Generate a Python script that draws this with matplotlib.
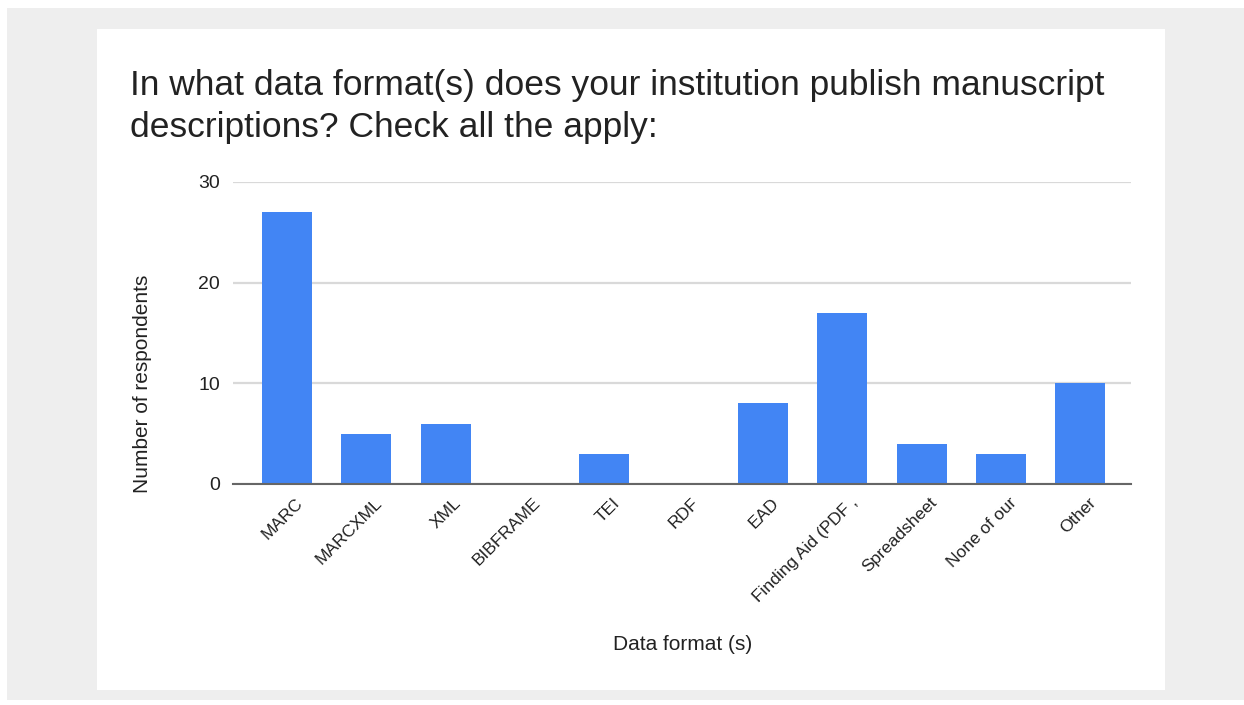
import matplotlib
matplotlib.use("Agg")
import matplotlib.pyplot as plt
from matplotlib.patches import Rectangle
from matplotlib.transforms import ScaledTranslation

categories = ["MARC", "MARCXML", "XML", "BIBFRAME", "TEI", "RDF", "EAD",
              "Finding Aid (PDF ,", "Spreadsheet", "None of our", "Other"]
values = [27, 5, 6, 0, 3, 0, 8, 17, 4, 3, 10]
yticks = [0, 10, 20, 30]

W, H = 1244, 705
plt.rcParams['font.family'] = ['Liberation Sans', 'DejaVu Sans']
fig = plt.figure(figsize=(W / 100, H / 100), dpi=100)
fig.patch.set_facecolor('white')

def fx(x):
    return x / W

def fy(y):
    return 1 - y / H

fig.patches.append(Rectangle((fx(7), fy(700)), fx(1244 - 7), (700 - 8) / H,
                             transform=fig.transFigure, facecolor='#eeeeee',
                             edgecolor='none', zorder=-2))
fig.patches.append(Rectangle((fx(97), fy(690)), fx(1165 - 97), (690 - 29) / H,
                             transform=fig.transFigure, facecolor='white',
                             edgecolor='none', zorder=-1))

ax = fig.add_axes([fx(233), fy(484), fx(1131 - 233), (484 - 182) / H])
ax.set_facecolor('none')
x = list(range(len(categories)))
ax.bar(x, values, width=0.63, color='#4285f4', zorder=3)
ax.set_xlim(-0.68, 10.64)
ax.set_ylim(0, 30)
ax.set_yticks(yticks)
ax.yaxis.grid(True, color='#d9d9d9', linewidth=1.6, zorder=0)
ax.set_axisbelow(True)
for s in ['top', 'right', 'left']:
    ax.spines[s].set_visible(False)
ax.spines['bottom'].set_color('#666666')
ax.spines['bottom'].set_linewidth(1.5)
ax.spines['bottom'].set_zorder(4)
ax.tick_params(axis='both', length=0, colors='#222222')
ax.tick_params(axis='y', labelsize=14, pad=9.5)
ax.set_xticks(x)
ax.set_xticklabels(categories, rotation=45, ha='right', rotation_mode='anchor',
                   fontsize=12.5)
ax.tick_params(axis='x', pad=8)
off = ScaledTranslation(8 / 100, 0, fig.dpi_scale_trans)
for lab in ax.get_xticklabels():
    lab.set_transform(lab.get_transform() + off)

fig.text(fx(130), fy(85), "In what data format(s) does your institution publish manuscript",
         fontsize=25.5, color='#222222', va='center', ha='left')
fig.text(fx(130), fy(128), "descriptions? Check all the apply:",
         fontsize=25.5, color='#222222', va='center', ha='left')
fig.text(fx(143), fy(384), "Number of respondents", rotation=90, fontsize=15,
         color='#222222', va='center', ha='center')
fig.text(fx(683), fy(645), "Data format (s)", fontsize=15,
         color='#222222', va='center', ha='center')

fig.savefig("out.png", dpi=100)
